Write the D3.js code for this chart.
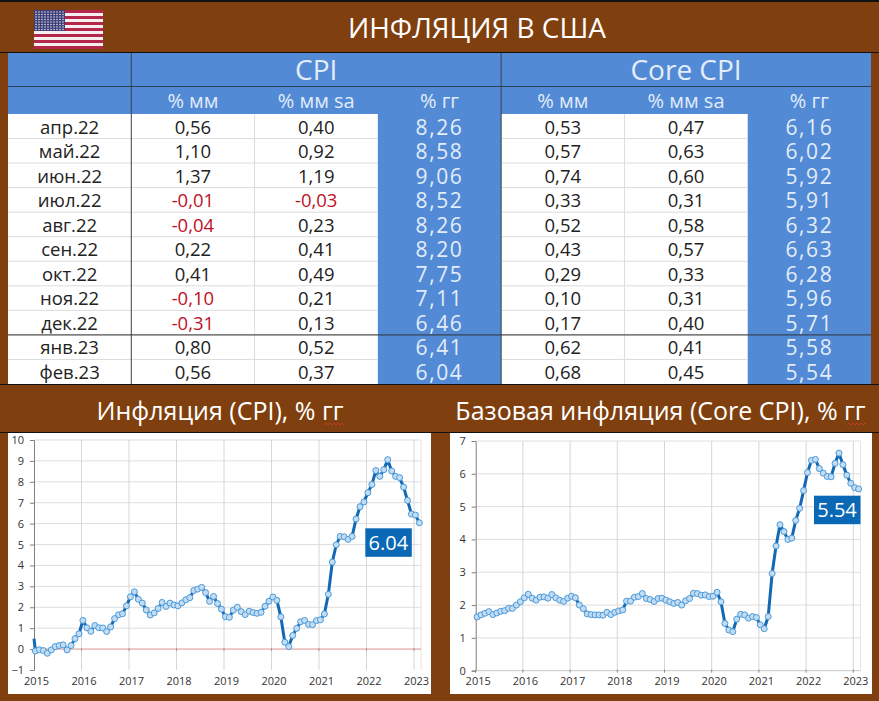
<!DOCTYPE html>
<html>
<head>
<meta charset="utf-8">
<script src="https://cdn.jsdelivr.net/npm/d3@7"></script>
<style>
  html, body { margin: 0; padding: 0; background: #7f3f0e; }
  svg { display: block; font-family: "Open Sans", sans-serif; }
</style>
</head>
<body>
<div id="chart"></div>
<script>
// table data
const months = ['апр.22', 'май.22', 'июн.22', 'июл.22', 'авг.22', 'сен.22', 'окт.22', 'ноя.22', 'дек.22', 'янв.23', 'фев.23'];
const cpiMm = ['0,56', '1,10', '1,37', '-0,01', '-0,04', '0,22', '0,41', '-0,10', '-0,31', '0,80', '0,56'];
const cpiMmSa = ['0,40', '0,92', '1,19', '-0,03', '0,23', '0,41', '0,49', '0,21', '0,13', '0,52', '0,37'];
const cpiYy = ['8,26', '8,58', '9,06', '8,52', '8,26', '8,20', '7,75', '7,11', '6,46', '6,41', '6,04'];
const coreMm = ['0,53', '0,57', '0,74', '0,33', '0,52', '0,43', '0,29', '0,10', '0,17', '0,62', '0,68'];
const coreMmSa = ['0,47', '0,63', '0,60', '0,31', '0,58', '0,57', '0,33', '0,31', '0,40', '0,41', '0,45'];
const coreYy = ['6,16', '6,02', '5,92', '5,91', '6,32', '6,63', '6,28', '5,96', '5,71', '5,58', '5,54'];
const subHeaders = ['', '% мм', '% мм sa', '% гг', '% мм', '% мм sa', '% гг'];

// monthly series, jan 2015 - feb 2023
const cpiSeries = [
  -0.09, -0.03, -0.07, -0.20, -0.04, 0.12, 0.17, 0.20, -0.04, 0.17, 0.50, 0.73,
  1.37, 1.02, 0.85, 1.13, 1.02, 1.01, 0.84, 1.06, 1.46, 1.64, 1.69, 2.07,
  2.50, 2.74, 2.38, 2.20, 1.87, 1.63, 1.73, 1.94, 2.23, 2.04, 2.20, 2.11,
  2.07, 2.21, 2.36, 2.46, 2.80, 2.87, 2.95, 2.70, 2.28, 2.52, 2.18, 1.91,
  1.55, 1.52, 1.86, 2.00, 1.79, 1.65, 1.81, 1.75, 1.71, 1.76, 2.05, 2.29,
  2.49, 2.33, 1.54, 0.33, 0.12, 0.65, 0.99, 1.31, 1.37, 1.18, 1.17, 1.36,
  1.40, 1.68, 2.62, 4.16, 4.99, 5.39, 5.37, 5.25, 5.39, 6.22, 6.81, 7.04,
  7.48, 7.87, 8.54, 8.26, 8.58, 9.06, 8.52, 8.26, 8.20, 7.75, 7.11, 6.46,
  6.41, 6.04,
];
const coreSeries = [
  1.64, 1.70, 1.75, 1.80, 1.71, 1.76, 1.81, 1.83, 1.90, 1.90, 2.00, 2.10,
  2.22, 2.33, 2.21, 2.15, 2.24, 2.25, 2.21, 2.32, 2.22, 2.15, 2.11, 2.21,
  2.27, 2.22, 2.00, 1.89, 1.73, 1.71, 1.70, 1.70, 1.69, 1.78, 1.71, 1.78,
  1.82, 1.85, 2.12, 2.12, 2.24, 2.26, 2.35, 2.20, 2.17, 2.11, 2.20, 2.21,
  2.15, 2.10, 2.05, 2.08, 2.00, 2.13, 2.20, 2.36, 2.35, 2.30, 2.31, 2.26,
  2.27, 2.39, 2.10, 1.44, 1.24, 1.19, 1.57, 1.72, 1.70, 1.60, 1.65, 1.62,
  1.40, 1.28, 1.65, 2.96, 3.80, 4.45, 4.24, 4.00, 4.04, 4.58, 4.95, 5.49,
  6.04, 6.41, 6.44, 6.16, 6.02, 5.92, 5.91, 6.32, 6.63, 6.28, 5.96, 5.71,
  5.58, 5.54,
];
const cpiStart = 0.5; // the cpi line comes in from dec 2014
const yearTicks = [2015, 2016, 2017, 2018, 2019, 2020, 2021, 2022, 2023];

const brown = '#7f3f0e';
const blue = '#528ad6';
const headText = '#e3edf9';

const width = 879;
const height = 701;

const svg = d3
  .select('#chart')
  .append('svg')
  .attr('width', width)
  .attr('height', height);

svg.append('rect').attr('width', width).attr('height', height).attr('fill', brown);

////// TITLE + FLAG //////
svg.append('line').attr('x1', 0).attr('x2', width).attr('y1', 1).attr('y2', 1).attr('stroke', '#111').attr('stroke-width', 2);
svg.append('line').attr('x1', 0).attr('x2', width).attr('y1', 52.5).attr('y2', 52.5).attr('stroke', '#111');

svg
  .append('text')
  .attr('x', 477)
  .attr('y', 38)
  .attr('text-anchor', 'middle')
  .attr('fill', '#fff')
  .attr('font-size', 28)
  .text('ИНФЛЯЦИЯ В США');

function drawFlag() {
  const flag = svg.append('g').attr('transform', 'translate(34,10)');
  const flagW = 69;
  const stripe = d3.scaleBand().domain(d3.range(13)).range([0, 39]);
  flag
    .selectAll('.stripe')
    .data(d3.range(13))
    .join('rect')
    .attr('class', 'stripe')
    .attr('x', 0)
    .attr('y', (d) => stripe(d))
    .attr('width', flagW)
    .attr('height', stripe.bandwidth())
    .attr('fill', (d) => (d % 2 ? '#f4eef0' : '#b5274a'));
  flag.append('rect').attr('width', 31).attr('height', stripe.bandwidth() * 7).attr('fill', '#3d3f78');
  const stars = d3.cross(d3.range(10), d3.range(8));
  flag
    .selectAll('.star')
    .data(stars)
    .join('circle')
    .attr('class', 'star')
    .attr('cx', (d) => 2 + d[0] * 3)
    .attr('cy', (d) => 2 + d[1] * 2.5)
    .attr('r', 0.8)
    .attr('fill', '#d9d9ea');
}
drawFlag();

////// TABLE //////
const colX = d3.scaleBand().domain(d3.range(7)).range([8, 871]);
const rowY = d3.scaleBand().domain(d3.range(months.length)).range([114, 384]);
const cols = [months, cpiMm, cpiMmSa, cpiYy, coreMm, coreMmSa, coreYy];

const table = svg.append('g');

// header blocks
table.append('rect').attr('x', 8).attr('y', 53).attr('width', 863).attr('height', 61).attr('fill', blue);
// white body
table.append('rect').attr('x', 8).attr('y', 114).attr('width', 863).attr('height', 270).attr('fill', '#fff');
// the blue % гг columns
table
  .selectAll('.yy-col')
  .data([3, 6])
  .join('rect')
  .attr('class', 'yy-col')
  .attr('x', (d) => colX(d))
  .attr('y', 114)
  .attr('width', colX.bandwidth())
  .attr('height', 270)
  .attr('fill', blue);

// light grid, only the white cells have it
const whiteSpans = [[8, colX(3)], [colX(4), colX(6)]];
table
  .selectAll('.row-line')
  .data(d3.cross(d3.range(1, months.length), whiteSpans))
  .join('line')
  .attr('class', 'row-line')
  .attr('x1', (d) => d[1][0])
  .attr('x2', (d) => d[1][1])
  .attr('y1', (d) => rowY(d[0]))
  .attr('y2', (d) => rowY(d[0]))
  .attr('stroke', '#dcdcdc')
  .attr('stroke-width', 1);

table
  .selectAll('.col-line')
  .data([2, 5])
  .join('line')
  .attr('class', 'col-line')
  .attr('x1', (d) => colX(d))
  .attr('x2', (d) => colX(d))
  .attr('y1', 114)
  .attr('y2', 384)
  .attr('stroke', '#dcdcdc');

// dark separators
table
  .append('line')
  .attr('x1', 8)
  .attr('x2', 871)
  .attr('y1', rowY(9))
  .attr('y2', rowY(9))
  .attr('stroke', '#333');
table
  .selectAll('.sep')
  .data([1, 4])
  .join('line')
  .attr('class', 'sep')
  .attr('x1', (d) => colX(d))
  .attr('x2', (d) => colX(d))
  .attr('y1', 53)
  .attr('y2', 384)
  .attr('stroke', '#3a4148');
table.append('line').attr('x1', 8).attr('x2', 871).attr('y1', 86.5).attr('y2', 86.5).attr('stroke', '#2c3e55');
table.append('line').attr('x1', 0).attr('x2', width).attr('y1', 384.5).attr('y2', 384.5).attr('stroke', '#111');

// header text
table
  .selectAll('.group-head')
  .data([{ label: 'CPI', from: 1 }, { label: 'Core CPI', from: 4 }])
  .join('text')
  .attr('class', 'group-head')
  .attr('x', (d) => colX(d.from) + colX.bandwidth() * 1.5)
  .attr('y', 80)
  .attr('text-anchor', 'middle')
  .attr('fill', headText)
  .attr('font-size', 28)
  .text((d) => d.label);

table
  .selectAll('.sub-head')
  .data(subHeaders)
  .join('text')
  .attr('class', 'sub-head')
  .attr('x', (d, i) => colX(i) + colX.bandwidth() / 2)
  .attr('y', 108)
  .attr('text-anchor', 'middle')
  .attr('fill', headText)
  .attr('font-size', 20)
  .text((d) => d);

// cells
cols.forEach((values, c) => {
  const big = c === 3 || c === 6;
  table
    .append('g')
    .selectAll('text')
    .data(values)
    .join('text')
    .attr('x', colX(c) + colX.bandwidth() / 2)
    .attr('y', (d, i) => rowY(i) + (big ? 20.5 : 19.5))
    .attr('text-anchor', 'middle')
    .attr('font-size', big ? 21 : 18.5)
    .attr('letter-spacing', big ? 1.6 : 0)
    .attr('fill', (d) => {
      if (big) return headText;
      if (c > 0 && d.startsWith('-')) return '#c00f1e';
      return '#222';
    })
    .text((d) => d);
});

////// SECTION TITLES //////
const sectionTitles = [
  { label: 'Инфляция (CPI), % гг', x: 220, wave: [324, 344] },
  { label: 'Базовая инфляция (Core CPI), % гг', x: 660.5, wave: [847, 867] },
];
svg
  .selectAll('.section-title')
  .data(sectionTitles)
  .join('text')
  .attr('class', 'section-title')
  .attr('x', (d) => d.x)
  .attr('y', 420)
  .attr('text-anchor', 'middle')
  .attr('fill', '#fff')
  .attr('font-size', 25)
  .text((d) => d.label);

// spell checker squiggle
svg
  .selectAll('.wave')
  .data(sectionTitles)
  .join('path')
  .attr('class', 'wave')
  .attr('fill', 'none')
  .attr('stroke', '#c03a2a')
  .attr('stroke-width', 1)
  .attr('d', (d) => {
    const pts = d3.range(d.wave[0], d.wave[1] + 1, 2).map((x, i) => [x, 424 + (i % 2 ? -1 : 1)]);
    return d3.line()(pts);
  });

svg.append('line').attr('x1', 0).attr('x2', width).attr('y1', 432.5).attr('y2', 432.5).attr('stroke', '#111');

////// LINE CHARTS //////
function lineChart(opts) {
  const { panel, xRange, yRange, domain, yTicks, series, start, label, labelBox } = opts;

  const g = svg.append('g');
  g.append('rect')
    .attr('x', panel[0])
    .attr('y', 433)
    .attr('width', panel[1] - panel[0])
    .attr('height', 261)
    .attr('fill', '#fff');

  const x = d3.scaleLinear().domain([2015, 2023]).range(xRange);
  const y = d3.scaleLinear().domain(domain).range(yRange);
  const xEnd = x(2023.15);

  // gridlines
  g.selectAll('.gy')
    .data(yTicks.slice(1))
    .join('line')
    .attr('class', 'gy')
    .attr('x1', xRange[0])
    .attr('x2', xEnd)
    .attr('y1', (d) => y(d))
    .attr('y2', (d) => y(d))
    .attr('stroke', '#dedede');
  g.selectAll('.gx')
    .data(yearTicks.slice(1))
    .join('line')
    .attr('class', 'gx')
    .attr('x1', (d) => x(d))
    .attr('x2', (d) => x(d))
    .attr('y1', yRange[1])
    .attr('y2', yRange[0])
    .attr('stroke', '#d6d6d6');
  g.append('line')
    .attr('x1', xEnd)
    .attr('x2', xEnd)
    .attr('y1', yRange[1])
    .attr('y2', yRange[0])
    .attr('stroke', '#e4e4e4');

  // axes
  const yAxis = d3.axisLeft(y).tickValues(yTicks).tickFormat(d3.format('d')).tickSize(4).tickPadding(6);
  g.append('g')
    .attr('transform', 'translate(' + xRange[0] + ',0)')
    .call(yAxis)
    .call((a) => a.selectAll('path,line').attr('stroke', '#7f7f7f'))
    .call((a) => a.selectAll('text').attr('fill', '#333').attr('font-size', 11).attr('font-family', '"Open Sans", sans-serif'));

  const xAxis = d3.axisBottom(x).tickValues(yearTicks).tickFormat(d3.format('d')).tickSize(0).tickPadding(7);
  g.append('g')
    .attr('transform', 'translate(0,' + yRange[0] + ')')
    .call(xAxis)
    .call((a) => a.select('.domain').remove())
    .call((a) => a.selectAll('text').attr('fill', '#333').attr('font-size', 11).attr('font-family', '"Open Sans", sans-serif').attr('dx', 2));

  // zero line
  const zeroColor = domain[0] < 0 ? '#e9a0a0' : '#c8c8c8';
  g.append('line')
    .attr('x1', xRange[0])
    .attr('x2', xEnd)
    .attr('y1', y(0))
    .attr('y2', y(0))
    .attr('stroke', zeroColor);
  g.selectAll('.zero-tick')
    .data(yearTicks)
    .join('line')
    .attr('class', 'zero-tick')
    .attr('x1', (d) => x(d))
    .attr('x2', (d) => x(d))
    .attr('y1', y(0) - 1)
    .attr('y2', y(0) + 2)
    .attr('stroke', domain[0] < 0 ? '#c98b8b' : '#8a8a8a');

  // points sit just after the month starts
  const pts = series.map((v, i) => ({ t: 2015.03 + i / 12, v }));
  const lineGen = d3.line().x((d) => x(d.t)).y((d) => y(d.v));
  const linePts = start === undefined ? pts : [{ t: 2015, v: start }].concat(pts);

  g.append('path')
    .attr('d', lineGen(linePts))
    .attr('fill', 'none')
    .attr('stroke', '#1268b3')
    .attr('stroke-width', 3)
    .attr('stroke-linejoin', 'round');

  g.selectAll('.pt')
    .data(pts)
    .join('circle')
    .attr('class', 'pt')
    .attr('cx', (d) => x(d.t))
    .attr('cy', (d) => y(d.v))
    .attr('r', 3)
    .attr('fill', '#c2dcf4')
    .attr('stroke', '#4b9ad8')
    .attr('stroke-width', 1);

  // last value badge
  g.append('rect')
    .attr('x', labelBox[0])
    .attr('y', labelBox[1])
    .attr('width', 46.5)
    .attr('height', 28.5)
    .attr('fill', '#0a68b4');
  g.append('text')
    .attr('x', labelBox[0] + 23)
    .attr('y', labelBox[1] + 21.5)
    .attr('text-anchor', 'middle')
    .attr('fill', '#fff')
    .attr('font-size', 20)
    .text(label);
}

lineChart({
  panel: [8, 431],
  xRange: [34, 414],
  yRange: [670, 440],
  domain: [-1, 10],
  yTicks: [-1, 0, 1, 2, 3, 4, 5, 6, 7, 8, 9, 10],
  series: cpiSeries,
  start: cpiStart,
  label: '6.04',
  labelBox: [365.3, 528.3],
});

lineChart({
  panel: [450, 872],
  xRange: [475.7, 853.3],
  yRange: [670.7, 441],
  domain: [0, 7],
  yTicks: [0, 1, 2, 3, 4, 5, 6, 7],
  series: coreSeries,
  label: '5.54',
  labelBox: [814, 495.7],
});
</script>
</body>
</html>
